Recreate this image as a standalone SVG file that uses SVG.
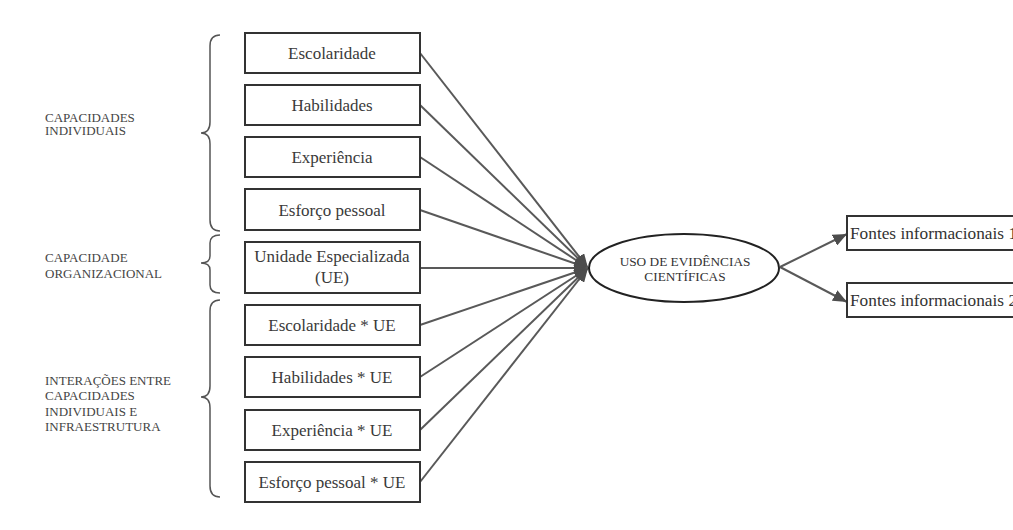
<svg xmlns="http://www.w3.org/2000/svg" width="1013" height="530" viewBox="0 0 1013 530">
<style>
.bg{fill:#fff}
.box{fill:#fff;stroke:#333;stroke-width:2}
.lbl{font-family:'Liberation Serif','Times New Roman',serif;font-size:17px;fill:#3a3a3a;text-anchor:middle}
.side{font-family:'Liberation Serif','Times New Roman',serif;font-size:13px;fill:#444}
.brace{fill:none;stroke:#555;stroke-width:1.5}
.edge{stroke:#595959;stroke-width:2;fill:none}
.ell{fill:#fff;stroke:#222;stroke-width:2}
.etxt{font-family:'Liberation Serif','Times New Roman',serif;font-size:13.3px;fill:#333;text-anchor:middle}
.rt{font-family:'Liberation Serif','Times New Roman',serif;font-size:17.3px;fill:#333}
</style>
<defs>
<marker id="ah" markerWidth="14" markerHeight="12" refX="14" refY="6" orient="auto" markerUnits="userSpaceOnUse">
<path d="M0,0 L14,6 L0,12 Z" fill="#4d4d4d"/>
</marker>
</defs>
<rect class="bg" x="0" y="0" width="1013" height="530"/>

<g id="side-labels">
<text class="side" x="45" y="122">CAPACIDADES</text>
<text class="side" x="45" y="135">INDIVIDUAIS</text>
<text class="side" x="45" y="262">CAPACIDADE</text>
<text class="side" x="45" y="278">ORGANIZACIONAL</text>
<text class="side" x="45" y="385">INTERAÇÕES ENTRE</text>
<text class="side" x="45" y="400">CAPACIDADES</text>
<text class="side" x="45" y="416">INDIVIDUAIS E</text>
<text class="side" x="45" y="431">INFRAESTRUTURA</text>
</g>

<g id="braces">
<path class="brace" d="M220,35 Q210,35 210,46 L210,122 Q210,133 201,133 Q210,133 210,144 L210,220 Q210,231 220,231"/>
<path class="brace" d="M220,235 Q210,235 210,243 L210,256 Q210,263 201,263 Q210,263 210,270 L210,285 Q210,293 220,293"/>
<path class="brace" d="M220,300 Q210,300 210,311 L210,386 Q210,397 201,397 Q210,397 210,408 L210,486 Q210,497 220,497"/>
</g>

<g id="connectors">
<line class="edge" x1="420" y1="53" x2="588" y2="268" marker-end="url(#ah)"/>
<line class="edge" x1="420" y1="105" x2="588" y2="268" marker-end="url(#ah)"/>
<line class="edge" x1="420" y1="157" x2="588" y2="268" marker-end="url(#ah)"/>
<line class="edge" x1="420" y1="210" x2="588" y2="268" marker-end="url(#ah)"/>
<line class="edge" x1="420" y1="268" x2="588" y2="268" marker-end="url(#ah)"/>
<line class="edge" x1="420" y1="325" x2="588" y2="268" marker-end="url(#ah)"/>
<line class="edge" x1="420" y1="377" x2="588" y2="268" marker-end="url(#ah)"/>
<line class="edge" x1="420" y1="430" x2="588" y2="268" marker-end="url(#ah)"/>
<line class="edge" x1="420" y1="482" x2="588" y2="268" marker-end="url(#ah)"/>
<line class="edge" x1="780" y1="267" x2="847" y2="234" marker-end="url(#ah)"/>
<line class="edge" x1="780" y1="267" x2="847" y2="302" marker-end="url(#ah)"/>
</g>

<g id="n-escolaridade"><rect class="box" x="245" y="33" width="175" height="40"/><text class="lbl" x="332" y="59">Escolaridade</text></g>
<g id="n-habilidades"><rect class="box" x="245" y="85" width="175" height="40"/><text class="lbl" x="332" y="111">Habilidades</text></g>
<g id="n-experiencia"><rect class="box" x="245" y="137" width="175" height="40"/><text class="lbl" x="332" y="163">Experiência</text></g>
<g id="n-esforco"><rect class="box" x="245" y="189" width="175" height="41"/><text class="lbl" x="332" y="216">Esforço pessoal</text></g>
<g id="n-ue"><rect class="box" x="245" y="242" width="175" height="51"/><text class="lbl" x="332" y="262">Unidade Especializada</text><text class="lbl" x="332" y="283">(UE)</text></g>
<g id="n-escolaridade-ue"><rect class="box" x="245" y="305" width="175" height="40"/><text class="lbl" x="332" y="331">Escolaridade * UE</text></g>
<g id="n-habilidades-ue"><rect class="box" x="245" y="357" width="175" height="40"/><text class="lbl" x="332" y="383">Habilidades * UE</text></g>
<g id="n-experiencia-ue"><rect class="box" x="245" y="410" width="175" height="40"/><text class="lbl" x="332" y="436">Experiência * UE</text></g>
<g id="n-esforco-ue"><rect class="box" x="245" y="462" width="175" height="40"/><text class="lbl" x="332" y="488">Esforço pessoal * UE</text></g>

<g id="n-uso">
<ellipse class="ell" cx="684" cy="268" rx="95" ry="34"/>
<text class="etxt" x="685" y="266">USO DE EVIDÊNCIAS</text>
<text class="etxt" x="685" y="281">CIENTÍFICAS</text>
</g>

<g id="n-fontes1"><rect class="box" x="847" y="216" width="200" height="34"/><text class="rt" x="850" y="239">Fontes informacionais 1</text></g>
<g id="n-fontes2"><rect class="box" x="847" y="283" width="200" height="34"/><text class="rt" x="850" y="306">Fontes informacionais 2</text></g>
</svg>
